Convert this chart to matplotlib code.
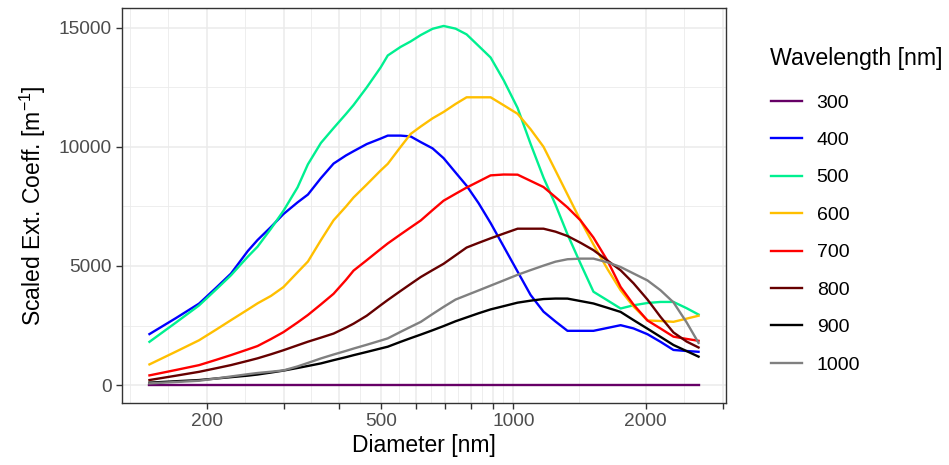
import matplotlib
matplotlib.use("Agg")
import matplotlib.pyplot as plt
import numpy as np

# diameters [nm] where curves were read
diameter = [148, 170, 192, 210, 227, 248, 261, 280, 299, 322, 340, 364, 389, 415,
            432, 463, 498, 517, 553, 583, 615, 654, 693, 738, 782, 833, 887, 950,
            1022, 1094, 1171, 1247, 1328, 1422, 1522, 1639, 1755, 1878, 2021, 2164,
            2316, 2480, 2642]

wavelengths = ["300", "400", "500", "600", "700", "800", "900", "1000"]

ext_300 = [0] * 43
ext_400 = [2140, 2810, 3420, 4086, 4680, 5628, 6090, 6637, 7180, 7671, 8000, 8690,
           9300, 9640, 9820, 10120, 10350, 10475, 10475, 10440, 10200, 9940, 9529,
           8924, 8371, 7635, 6803, 5818, 4764, 3785, 3081, 2667, 2277, 2277, 2277,
           2399, 2514, 2378, 2134, 1815, 1474, 1430, 1396]
ext_500 = [1815, 2622, 3342, 4014, 4609, 5390, 5810, 6564, 7315, 8300, 9270, 10167,
           10790, 11380, 11760, 12500, 13337, 13840, 14200, 14430, 14700, 14960, 15080,
           14967, 14726, 14240, 13755, 12800, 11635, 10130, 8710, 7575, 6328, 5099,
           3918, 3553, 3214, 3350, 3446, 3490, 3490, 3230, 2960]
ext_600 = [867, 1402, 1880, 2327, 2724, 3169, 3431, 3742, 4114, 4735, 5187, 6084,
           6919, 7493, 7876, 8422, 9009, 9290, 10000, 10546, 10860, 11200, 11468,
           11804, 12084, 12084, 12084, 11750, 11391, 10744, 10004, 9005, 8000, 6910,
           5903, 4862, 3981, 3298, 2712, 2689, 2655, 2787, 2912]
ext_700 = [406, 632, 836, 1058, 1257, 1496, 1638, 1931, 2222, 2628, 2942, 3387, 3832,
           4413, 4805, 5243, 5712, 5947, 6327, 6620, 6914, 7346, 7742, 8031, 8293,
           8549, 8805, 8841, 8835, 8575, 8315, 7890, 7460, 6914, 6193, 5216, 4120,
           3379, 2710, 2374, 2032, 1938, 1858]
ext_800 = [210, 392, 555, 705, 838, 1016, 1122, 1292, 1462, 1669, 1820, 1991, 2162,
           2410, 2577, 2912, 3352, 3572, 3952, 4245, 4538, 4827, 5092, 5447, 5774,
           5972, 6162, 6360, 6566, 6566, 6566, 6441, 6259, 5975, 5664, 5227, 4819,
           4274, 3589, 2862, 2210, 1829, 1578]
ext_900 = [100, 160, 210, 274, 331, 395, 442, 525, 607, 717, 801, 909, 1045, 1170,
           1254, 1390, 1536, 1610, 1815, 1969, 2120, 2300, 2476, 2679, 2840, 3015,
           3177, 3313, 3460, 3543, 3612, 3632, 3630, 3527, 3425, 3243, 3071, 2728,
           2366, 2024, 1682, 1428, 1193]
ext_1000 = [70, 127, 180, 275, 360, 455, 506, 560, 615, 782, 929, 1118, 1282, 1433,
            1532, 1692, 1868, 1960, 2235, 2445, 2654, 2982, 3282, 3590, 3774, 3974,
            4175, 4394, 4630, 4826, 5016, 5181, 5283, 5309, 5309, 5153, 4957, 4685,
            4393, 3981, 3473, 2640, 1770]

series = [ext_300, ext_400, ext_500, ext_600, ext_700, ext_800, ext_900, ext_1000]
colors = ["#660066", "#0000FF", "#00F090", "#FFBF00", "#FF0000", "#660000",
          "#000000", "#808080"]

x_breaks = [200, 300, 400, 500, 600, 700, 800, 900, 1000, 2000, 3000]
x_labels = ["200", "", "", "500", "", "", "", "", "1000", "2000", ""]
y_breaks = [0, 5000, 10000, 15000]

plt.rcParams["font.family"] = ["Liberation Sans", "DejaVu Sans"]
plt.rcParams["mathtext.fontset"] = "custom"
plt.rcParams["mathtext.rm"] = "Liberation Sans"
plt.rcParams["mathtext.default"] = "regular"

fig = plt.figure(figsize=(9.49, 4.65), dpi=100)
ax = fig.add_axes([122 / 949, 1 - 403 / 465, 604 / 949, 395 / 465])

lines = []
for vals, col, lab in zip(series, colors, wavelengths):
    ln, = ax.plot(diameter, vals, color=col, lw=1.7, label=lab, zorder=3)
    lines.append(ln)

ax.set_xscale("log")
# ggplot-like 5% expansion
lx = np.log10([min(diameter), max(diameter)])
dx = (lx[1] - lx[0]) * 0.05
ax.set_xlim(10 ** (lx[0] - dx), 10 ** (lx[1] + dx))
ymax = max(max(s) for s in series)
ax.set_ylim(-0.05 * ymax, 1.05 * ymax)

ax.set_xticks(x_breaks)
ax.set_xticklabels(x_labels)
ax.xaxis.set_minor_locator(matplotlib.ticker.NullLocator())
lb = np.log10(x_breaks)
x_minor = [10 ** (lb[0] - (lb[1] - lb[0]))]
x_minor += [10 ** ((lb[0] - (lb[1] - lb[0]) + lb[0]) / 2)]
x_minor += [10 ** ((a + b) / 2) for a, b in zip(lb[:-1], lb[1:])]
ax.set_yticks(y_breaks)
y_minor = [2500, 7500, 12500]

for xm in x_minor:
    ax.axvline(xm, color="#EBEBEB", lw=0.6, zorder=0)
for ym in y_minor:
    ax.axhline(ym, color="#EBEBEB", lw=0.6, zorder=0)
for xb in x_breaks:
    ax.axvline(xb, color="#EBEBEB", lw=1.1, zorder=1)
for yb in y_breaks:
    ax.axhline(yb, color="#EBEBEB", lw=1.1, zorder=1)

for s in ax.spines.values():
    s.set_color("#333333")
    s.set_linewidth(1.0)
ax.tick_params(axis="both", colors="#333333", length=4.2, width=1.0,
               labelsize=13.8, labelcolor="#4D4D4D")
ax.tick_params(axis="x", pad=3)
ax.tick_params(axis="y", pad=3)

ax.set_xlabel("Diameter [nm]", fontsize=16.5, labelpad=3)
ax.set_ylabel(r"Scaled Ext. Coeff. [m$^{-1}$]", fontsize=16.5, labelpad=8)

fig.text(770 / 949, 1 - 58 / 465, "Wavelength [nm]", fontsize=16.7,
         ha="left", va="center")
fig.legend(handles=lines, loc="upper left", bbox_to_anchor=(771 / 949, 1 - 94 / 465),
           frameon=False, fontsize=14, handlelength=1.6, handletextpad=0.75,
           labelspacing=1.02, borderpad=0, borderaxespad=0)

fig.savefig("out.png", dpi=100)
